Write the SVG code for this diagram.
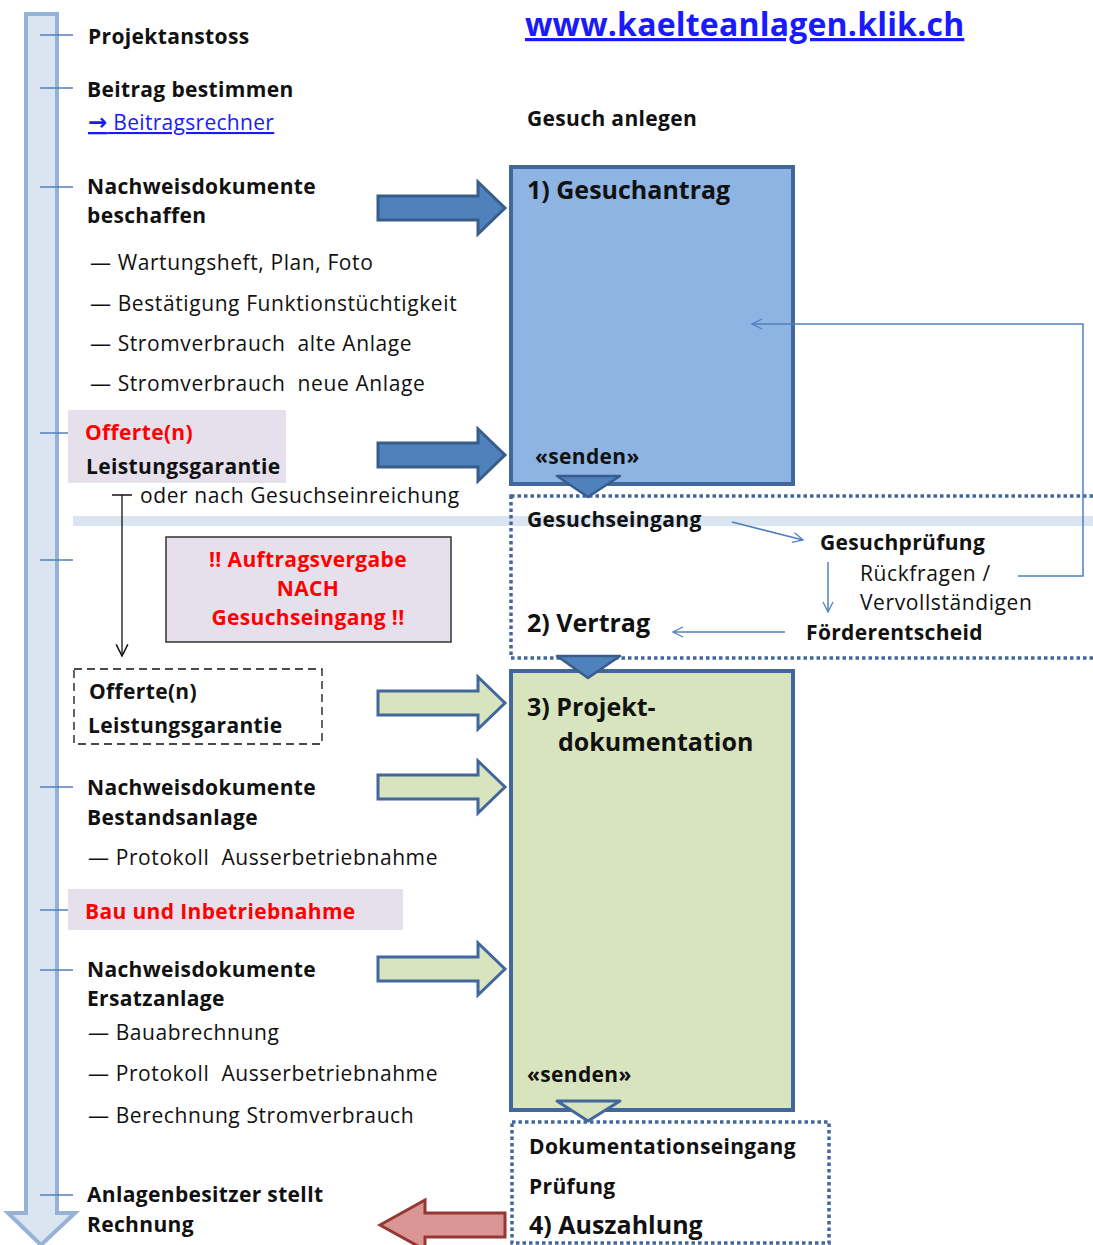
<svg xmlns="http://www.w3.org/2000/svg" xmlns:xlink="http://www.w3.org/1999/xlink" width="1093" height="1245" viewBox="0 0 1093 1245">
<style>
text{font-family:"Open Sans","Liberation Sans",sans-serif;fill:#111;white-space:pre}
.b{font-weight:bold;font-size:21px;letter-spacing:0.35px}
.r{font-size:21px;letter-spacing:0.6px}
.t{font-weight:bold;font-size:25px}
.red{fill:#ff0000}
.tick{stroke:#4f81bd;stroke-width:1.5}
.thin{stroke:#4f81bd;stroke-width:1.5;fill:none}
.dot{fill:none;stroke:#41679c;stroke-width:3.5;stroke-dasharray:3.5 3}
.hl{fill:#e5e0ec}
.ba{fill:#4f81bd;stroke:#385d8a;stroke-width:3}
.ga{fill:#d7e4bd;stroke:#41679c;stroke-width:3}
</style>
<defs>
<path id="blk" d="M-127,-12 L-27,-12 L-27,-26 L0,0 L-27,26 L-27,12 L-127,12 Z"/>
<marker id="oa" viewBox="0 0 12 12" refX="11" refY="6" markerWidth="12" markerHeight="12" markerUnits="userSpaceOnUse" orient="auto"><path d="M1,1 L11,6 L1,11" fill="none" stroke="#4f81bd" stroke-width="1.3"/></marker>
<marker id="ok" viewBox="0 0 12 12" refX="11" refY="6" markerWidth="14" markerHeight="14" markerUnits="userSpaceOnUse" orient="auto"><path d="M1,1 L11,6 L1,11" fill="none" stroke="#111" stroke-width="1.3"/></marker>
</defs>

<g id="timeline">
<path d="M26,14 L57,14 L57,1213 L75,1213 L41,1245 L8,1213 L26,1213 Z" fill="#dbe5f1" stroke="#95b3d7" stroke-width="4"/>
<g class="tick">
<line x1="40" y1="35" x2="73" y2="35"/>
<line x1="40" y1="88" x2="73" y2="88"/>
<line x1="40" y1="187" x2="73" y2="187"/>
<line x1="40" y1="433" x2="73" y2="433"/>
<line x1="40" y1="560" x2="73" y2="560"/>
<line x1="40" y1="787" x2="73" y2="787"/>
<line x1="40" y1="910" x2="73" y2="910"/>
<line x1="40" y1="970" x2="73" y2="970"/>
<line x1="40" y1="1195" x2="73" y2="1195"/>
</g>
</g>

<rect id="band" x="73" y="516" width="1020" height="10" fill="#dbe5f1"/>

<g id="url"><text x="525" y="36" style="font-weight:bold;font-size:32px;letter-spacing:0.2px;fill:#1a1aff;text-decoration:underline">www.kaelteanlagen.klik.ch</text></g>

<g id="steps-left">
<text class="b" x="88" y="44">Projektanstoss</text>
<text class="b" x="87" y="97">Beitrag bestimmen</text>
<text class="r" x="88" y="130" style="fill:#1a1aff;text-decoration:underline;letter-spacing:0.3px"><tspan style="font-family:'DejaVu Sans',sans-serif;font-size:23px;font-weight:bold">→</tspan> Beitragsrechner</text>
<text class="b" x="87" y="194">Nachweisdokumente</text>
<text class="b" x="87" y="223">beschaffen</text>
<text class="r" x="90" y="270">— Wartungsheft, Plan, Foto</text>
<text class="r" x="90" y="311">— Bestätigung Funktionstüchtigkeit</text>
<text class="r" x="90" y="351">— Stromverbrauch  alte Anlage</text>
<text class="r" x="90" y="391">— Stromverbrauch  neue Anlage</text>
</g>

<g id="offerte1">
<rect class="hl" x="68" y="410" width="218" height="73"/>
<text class="b red" x="85" y="440">Offerte(n)</text>
<text class="b" x="86" y="474">Leistungsgarantie</text>
<text class="r" x="140" y="503">oder nach Gesuchseinreichung</text>
</g>

<g id="warning">
<rect x="166" y="537" width="285" height="105" fill="#e5e0ec" stroke="#333" stroke-width="1.5"/>
<text class="b red" x="308" y="567" text-anchor="middle">!! Auftragsvergabe</text>
<text class="b red" x="308" y="596" text-anchor="middle">NACH</text>
<text class="b red" x="308" y="625" text-anchor="middle">Gesuchseingang !!</text>
</g>

<g id="offerte2">
<rect x="74" y="669" width="248" height="75" fill="none" stroke="#111" stroke-width="1.3" stroke-dasharray="8 5"/>
<text class="b" x="89" y="699">Offerte(n)</text>
<text class="b" x="88" y="733">Leistungsgarantie</text>
</g>

<g id="steps-left2">
<text class="b" x="87" y="795">Nachweisdokumente</text>
<text class="b" x="87" y="825">Bestandsanlage</text>
<text class="r" x="88" y="865">— Protokoll  Ausserbetriebnahme</text>
<rect class="hl" x="68" y="889" width="335" height="41"/>
<text class="b red" x="85" y="919">Bau und Inbetriebnahme</text>
<text class="b" x="87" y="977">Nachweisdokumente</text>
<text class="b" x="87" y="1006">Ersatzanlage</text>
<text class="r" x="88" y="1040">— Bauabrechnung</text>
<text class="r" x="88" y="1081">— Protokoll  Ausserbetriebnahme</text>
<text class="r" x="88" y="1123">— Berechnung Stromverbrauch</text>
<text class="b" x="87" y="1202">Anlagenbesitzer stellt</text>
<text class="b" x="87" y="1232">Rechnung</text>
</g>

<g id="box1">
<text class="b" x="527" y="126">Gesuch anlegen</text>
<rect x="511" y="167" width="282" height="317" fill="#8eb4e3" stroke="#41679c" stroke-width="4"/>
<text class="t" x="527" y="199">1) Gesuchantrag</text>
<text class="b" x="535" y="464">«senden»</text>
</g>

<g id="box2">
<rect class="dot" x="511" y="496" width="600" height="162"/>
<text class="b" x="527" y="527">Gesuchseingang</text>
<text class="b" x="820" y="550">Gesuchprüfung</text>
<text class="r" x="860" y="581">Rückfragen /</text>
<text class="r" x="860" y="610">Vervollständigen</text>
<text class="t" x="527" y="632">2) Vertrag</text>
<text class="b" x="806" y="640">Förderentscheid</text>
</g>

<g id="box3">
<rect x="511" y="671" width="282" height="439" fill="#d7e4bd" stroke="#41679c" stroke-width="4"/>
<text class="t" x="527" y="716">3) Projekt-</text>
<text class="t" x="558" y="751">dokumentation</text>
<text class="b" x="527" y="1082">«senden»</text>
</g>

<g id="box4">
<rect class="dot" x="512" y="1122" width="317" height="121"/>
<text class="b" x="529" y="1154">Dokumentationseingang</text>
<text class="b" x="529" y="1194">Prüfung</text>
<text class="t" x="529" y="1234">4) Auszahlung</text>
</g>

<g id="connectors">
<use xlink:href="#blk" href="#blk" class="ba" transform="translate(505,208)"/>
<use xlink:href="#blk" href="#blk" class="ba" transform="translate(505,455)"/>
<use xlink:href="#blk" href="#blk" class="ga" transform="translate(505,703)"/>
<use xlink:href="#blk" href="#blk" class="ga" transform="translate(505,787)"/>
<use xlink:href="#blk" href="#blk" class="ga" transform="translate(505,969)"/>
<path d="M380,1225 L425,1200 L425,1213 L505,1213 L505,1237 L425,1237 L425,1250 Z" fill="#d99694" stroke="#953735" stroke-width="3"/>
<path d="M557,476 L620,476 L588,497 Z" fill="#4f81bd" stroke="#385d8a" stroke-width="2.5" stroke-linejoin="round"/>
<path d="M557,656 L620,656 L588,678 Z" fill="#4f81bd" stroke="#385d8a" stroke-width="2.5" stroke-linejoin="round"/>
<path d="M557,1101 L620,1101 L588,1121 Z" fill="#d7e4bd" stroke="#41679c" stroke-width="3" stroke-linejoin="round"/>
<path d="M112,495 L132,495 M122,495 L122,656" fill="none" stroke="#111" stroke-width="1.3" marker-end="url(#ok)"/>
<path class="thin" d="M1018,576 L1083,576 L1083,324 L752,324" marker-end="url(#oa)"/>
<path class="thin" d="M732,522 L803,540" marker-end="url(#oa)"/>
<path class="thin" d="M828,562 L828,612" marker-end="url(#oa)"/>
<path class="thin" d="M785,632 L673,632" marker-end="url(#oa)"/>
</g>
</svg>
